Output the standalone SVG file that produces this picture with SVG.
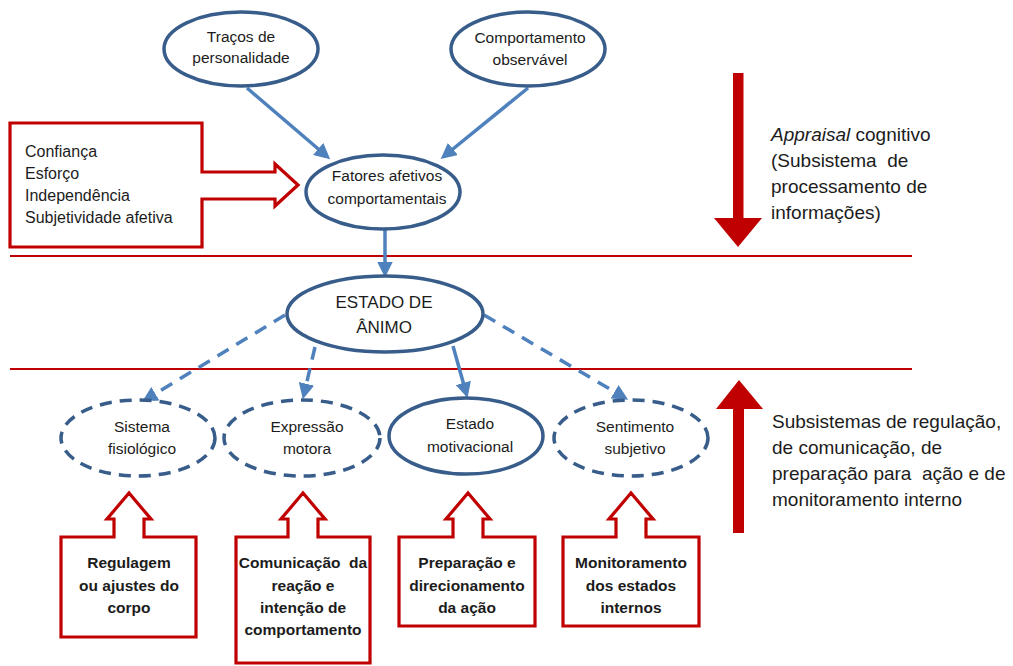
<svg xmlns="http://www.w3.org/2000/svg" width="1013" height="666" viewBox="0 0 1013 666">
  <style>
    .bg { fill: #ffffff; }
    .node { fill: #ffffff; stroke: #385D8A; stroke-width: 3.5; }
    .dashed { stroke-dasharray: 12 8; }
    .conn { fill: none; stroke: #4F81BD; stroke-width: 3.5; }
    .conn-dash { stroke-dasharray: 13 9; }
    .callout { fill: #ffffff; stroke: #C00000; stroke-width: 3.2; stroke-linejoin: miter; }
    .rule { stroke: #C00000; stroke-width: 2; }
    .big { fill: #C00000; }
    text { font-family: "Liberation Sans", Arial, sans-serif; fill: #1c1c1c; }
    .t { font-size: 15.5px; text-anchor: middle; }
    .tl { font-size: 17px; text-anchor: middle; }
    .side { font-size: 16px; }
    .note { font-size: 19px; }
    .bold { font-size: 15.5px; font-weight: bold; text-anchor: middle; }
  </style>
  <defs>
    <marker id="arrow" viewBox="0 0 10 10" refX="4" refY="5" markerWidth="4.5" markerHeight="4.5" markerUnits="strokeWidth" orient="auto">
      <path d="M0,0 L10,5 L0,10 z" fill="#4F81BD"/>
    </marker>
  </defs>

  <rect class="bg" x="0" y="0" width="1013" height="666"/>

  <!-- horizontal separators -->
  <g id="separators">
    <line class="rule" x1="10" y1="256" x2="912" y2="256"/>
    <line class="rule" x1="10" y1="369" x2="912" y2="369"/>
  </g>

  <!-- connectors -->
  <g id="connectors">
    <line class="conn" x1="247" y1="88" x2="323" y2="153" marker-end="url(#arrow)"/>
    <line class="conn" x1="528" y1="88" x2="448" y2="153" marker-end="url(#arrow)"/>
    <line class="conn" x1="385" y1="229" x2="385" y2="268" marker-end="url(#arrow)"/>
    <line class="conn conn-dash" x1="285" y1="315" x2="150" y2="397" marker-end="url(#arrow)"/>
    <line class="conn conn-dash" x1="315" y1="347" x2="305" y2="390" marker-end="url(#arrow)"/>
    <line class="conn" x1="453" y1="346" x2="465" y2="389" marker-end="url(#arrow)"/>
    <line class="conn conn-dash" x1="484" y1="315" x2="620" y2="395" marker-end="url(#arrow)"/>
  </g>

  <!-- upper nodes -->
  <g id="tracos">
    <ellipse class="node" cx="241" cy="49" rx="77" ry="37"/>
    <text class="t" x="241" y="42">Traços de</text>
    <text class="t" x="241" y="63">personalidade</text>
  </g>
  <g id="comportamento">
    <ellipse class="node" cx="528" cy="49" rx="77" ry="37"/>
    <text class="t" x="530" y="43">Comportamento</text>
    <text class="t" x="530" y="65">observável</text>
  </g>
  <g id="fatores">
    <ellipse class="node" cx="383" cy="192" rx="77" ry="37"/>
    <text class="t" x="387" y="181">Fatores afetivos</text>
    <text class="t" x="387" y="204">comportamentais</text>
  </g>
  <g id="estado-animo">
    <ellipse class="node" cx="385" cy="314" rx="98" ry="38"/>
    <text class="tl" x="384" y="308">ESTADO DE</text>
    <text class="tl" x="384" y="333">ÂNIMO</text>
  </g>

  <!-- lower nodes -->
  <g id="sistema">
    <ellipse class="node dashed" cx="138" cy="438" rx="77" ry="38"/>
    <text class="t" x="142" y="432">Sistema</text>
    <text class="t" x="142" y="454">fisiológico</text>
  </g>
  <g id="expressao">
    <ellipse class="node dashed" cx="302" cy="438" rx="78" ry="38"/>
    <text class="t" x="307" y="432">Expressão</text>
    <text class="t" x="307" y="454">motora</text>
  </g>
  <g id="motivacional">
    <ellipse class="node" cx="466" cy="436" rx="77" ry="38"/>
    <text class="t" x="470" y="429">Estado</text>
    <text class="t" x="470" y="452">motivacional</text>
  </g>
  <g id="sentimento">
    <ellipse class="node dashed" cx="631" cy="438" rx="77" ry="38"/>
    <text class="t" x="635" y="432">Sentimento</text>
    <text class="t" x="635" y="454">subjetivo</text>
  </g>

  <!-- left callout -->
  <g id="fatores-lista">
    <path class="callout" d="M10,123 H202 V172 H275 V164 L298,185 L275,206 V199 H202 V247 H10 Z"/>
    <text class="side" x="25" y="157">Confiança</text>
    <text class="side" x="25" y="179">Esforço</text>
    <text class="side" x="25" y="201">Independência</text>
    <text class="side" x="25" y="223">Subjetividade afetiva</text>
  </g>

  <!-- bottom callouts -->
  <g id="regulagem">
    <path class="callout" d="M61,537 H114 V519 H107 L129,493 L151,519 H144 V537 H196 V637 H61 Z"/>
    <text class="bold" x="129" y="568">Regulagem</text>
    <text class="bold" x="129" y="591">ou ajustes do</text>
    <text class="bold" x="129" y="613">corpo</text>
  </g>
  <g id="comunicacao">
    <path class="callout" d="M236,537 H288 V519 H281 L303,493 L325,519 H318 V537 H370 V663 H236 Z"/>
    <text class="bold" x="303" y="568" xml:space="preserve">Comunicação  da</text>
    <text class="bold" x="303" y="591">reação e</text>
    <text class="bold" x="303" y="613">intenção de</text>
    <text class="bold" x="303" y="635">comportamento</text>
  </g>
  <g id="preparacao">
    <path class="callout" d="M399,537 H453 V519 H446 L468,493 L490,519 H483 V537 H535 V626 H399 Z"/>
    <text class="bold" x="467" y="568">Preparação e</text>
    <text class="bold" x="467" y="591">direcionamento</text>
    <text class="bold" x="467" y="613">da ação</text>
  </g>
  <g id="monitoramento">
    <path class="callout" d="M563,537 H616 V519 H609 L631,493 L653,519 H646 V537 H699 V626 H563 Z"/>
    <text class="bold" x="631" y="568">Monitoramento</text>
    <text class="bold" x="631" y="591">dos estados</text>
    <text class="bold" x="631" y="613">internos</text>
  </g>

  <!-- large direction arrows with notes -->
  <g id="appraisal">
    <rect class="big" x="733" y="73" width="10.5" height="147"/>
    <polygon class="big" points="714,218 762,218 738,247"/>
    <text class="note" x="771" y="141"><tspan font-style="italic">Appraisal</tspan> cognitivo</text>
    <text class="note" x="771" y="167" xml:space="preserve">(Subsistema  de</text>
    <text class="note" x="771" y="193">processamento de</text>
    <text class="note" x="771" y="219">informações)</text>
  </g>
  <g id="subsistemas">
    <rect class="big" x="733" y="407" width="11" height="126"/>
    <polygon class="big" points="716,409 763,409 739,380"/>
    <text class="note" x="772" y="428">Subsistemas de regulação,</text>
    <text class="note" x="772" y="454">de comunicação, de</text>
    <text class="note" x="772" y="480" xml:space="preserve">preparação para  ação e de</text>
    <text class="note" x="772" y="506">monitoramento interno</text>
  </g>
</svg>
